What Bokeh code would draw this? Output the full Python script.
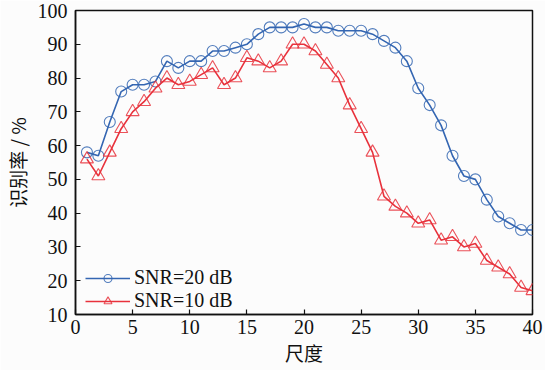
from bokeh.plotting import figure
from bokeh.models import Legend, LegendItem, FixedTicker
from bokeh.embed import file_html
from bokeh.resources import INLINE

scale = list(range(1, 41))
snr20 = [58, 57, 67, 76, 78, 78, 79, 85, 83, 85, 85, 88, 88, 89, 90, 93, 95, 95, 95, 96,
         95, 95, 94, 94, 94, 93, 91, 89, 85, 77, 72, 66, 57, 51, 50, 44, 39, 37, 35, 35]
snr10 = [56, 51, 58, 65, 70, 73, 77, 80, 78, 79, 81, 83, 78, 80, 86, 85, 83, 85, 90, 90,
         88, 84, 80, 72, 65, 58, 45, 42, 40, 37, 38, 32, 33, 30, 31, 26, 24, 22, 18, 17]
labels = ["SNR=20 dB", "SNR=10 dB"]
x_ticks = [0, 5, 10, 15, 20, 25, 30, 35, 40]
y_ticks = [10, 20, 30, 40, 50, 60, 70, 80, 90, 100]

BLUE = "#3466b2"
RED = "#e8323c"
SERIF = "Liberation Serif"
CJK = "Noto Sans CJK SC"

p = figure(width=545, height=370, x_range=(0, 40), y_range=(10, 100),
           output_backend="svg", toolbar_location=None,
           min_border_left=64, min_border_right=13, min_border_top=10, min_border_bottom=56)
p.background_fill_color = "#fcfcfc"
p.border_fill_color = "#fcfcfc"
p.outline_line_color = "#111111"
p.outline_line_width = 1.5
p.grid.visible = False

for ax in (p.xaxis[0], p.yaxis[0]):
    ax.axis_line_color = "#111111"
    ax.axis_line_width = 1.5
    ax.major_tick_in = 5
    ax.major_tick_out = 0
    ax.minor_tick_line_color = None
    ax.major_tick_line_color = "#111111"
    ax.major_tick_line_width = 1.2
    ax.major_label_text_font = SERIF
    ax.major_label_text_font_size = "20px"
    ax.major_label_text_color = "#111111"
    ax.axis_label_text_font = CJK
    ax.axis_label_text_font_style = "normal"
    ax.axis_label_text_font_size = "19px"
    ax.axis_label_text_color = "#111111"

p.xaxis.ticker = FixedTicker(ticks=x_ticks)
p.yaxis.ticker = FixedTicker(ticks=y_ticks)
p.xaxis.axis_label = "尺度"
p.yaxis.axis_label = "识别率 / %"
p.xaxis.major_label_standoff = 5
p.yaxis.major_label_standoff = 8
p.xaxis.axis_label_standoff = 2
p.yaxis.axis_label_standoff = 4

l1 = p.line(scale, snr20, line_color=BLUE, line_width=1.6)
m1 = p.scatter(scale, snr20, marker="circle", size=11, line_color=BLUE, line_alpha=0.85,
               line_width=1.1, fill_alpha=0)
l2 = p.line(scale, snr10, line_color=RED, line_width=1.6)
m2 = p.scatter(scale, snr10, marker="triangle", size=13, line_color=RED, line_alpha=0.85,
               line_width=1.1, fill_alpha=0)

legend = Legend(items=[LegendItem(label=labels[0], renderers=[l1, m1]),
                       LegendItem(label=labels[1], renderers=[l2, m2])],
                location=(10, 2), border_line_color=None, background_fill_alpha=0,
                padding=0, margin=0, spacing=0, glyph_width=45, glyph_height=20,
                label_height=22, label_standoff=4,
                label_text_font=SERIF, label_text_font_size="20px", label_text_color="#111111")
p.add_layout(legend)

open("out.html", "w").write(file_html(p, INLINE))
